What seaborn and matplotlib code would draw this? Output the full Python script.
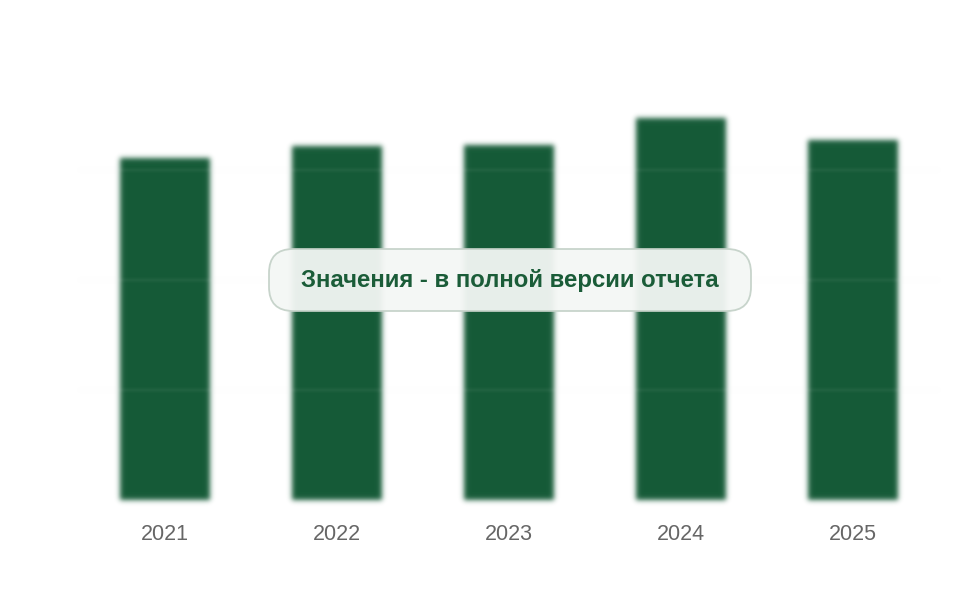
import numpy as np
import matplotlib
matplotlib.use('Agg')
import matplotlib.pyplot as plt
import seaborn as sns
from matplotlib.patches import FancyBboxPatch

# data (units: gridline step = 100)
years = ['2021', '2022', '2023', '2024', '2025']
values = [311, 322, 323, 347, 327]
grid_ticks = [100, 200, 300]

bar_color = '#165b38'
label_color = '#666666'
note_text = 'Значения - в полной версии отчета'


def gauss_blur(sigma):
    '''returns an agg_filter function that blurs the rendered artist'''
    def _smooth(a, k, pad):
        tmp = np.zeros_like(a)
        for i, w in enumerate(k):
            tmp += w * np.roll(a, i - pad, axis=0)
        out = np.zeros_like(a)
        for i, w in enumerate(k):
            out += w * np.roll(tmp, i - pad, axis=1)
        return out

    def _filter(img, dpi):
        s = sigma * dpi / 100.
        pad = int(3 * s) + 1
        x = np.arange(-pad, pad + 1)
        k = np.exp(-0.5 * (x / s) ** 2)
        k /= k.sum()
        src = np.pad(img, ((pad, pad), (pad, pad), (0, 0)))
        alpha = src[..., 3:]
        rgb = _smooth(src[..., :3] * alpha, k, pad)
        a = _smooth(alpha, k, pad)
        rgb = np.where(a > 1e-4, rgb / np.maximum(a, 1e-4), 0)
        return np.concatenate([np.clip(rgb, 0, 1), a], axis=2), -pad, -pad
    return _filter


sns.set_style('white')
plt.rcParams['font.family'] = ['Liberation Sans', 'DejaVu Sans']

fig = plt.figure(figsize=[9.6, 6], dpi=100)
ax = fig.add_axes([79 / 960, 100 / 600, 860 / 960, 440 / 600])

sns.barplot(x=years, y=values, color=bar_color, saturation=1,
            width=0.52, ax=ax)

for bar in ax.patches:
    bar.set_edgecolor('none')
    bar.set_agg_filter(gauss_blur(2.6))

# barely visible gridlines over the bars, blurred as well
for t in grid_ticks:
    ln = ax.axhline(t, color='#f2f5f3', lw=1.5, alpha=0.1, zorder=3)
    ln.set_agg_filter(gauss_blur(1.5))

ax.set_xlim(-0.5, len(years) - 0.5)
ax.set_ylim(0, 400)
ax.set_yticks([])
ax.set_xlabel('')
ax.set_ylabel('')
ax.tick_params(axis='x', length=0, pad=17, labelsize=15.5,
               labelcolor=label_color)
sns.despine(ax=ax, left=True, bottom=True)

# overlay note, in a pixel-sized overlay axes
ov = fig.add_axes([0, 0, 1, 1], zorder=10)
ov.set_xlim(0, 960)
ov.set_ylim(600, 0)
ov.axis('off')
ov.patch.set_alpha(0)
box = FancyBboxPatch((269, 249), 482, 62,
                     boxstyle='round,pad=0,rounding_size=24',
                     facecolor='#f4f7f5', edgecolor='#c5d2c9', lw=1.3,
                     alpha=0.95)
ov.add_patch(box)
ov.text(510, 281, note_text, ha='center', va='center',
        fontsize=17.3, fontweight='bold', color='#1a5c38')

fig.savefig('out.png', dpi=100)
